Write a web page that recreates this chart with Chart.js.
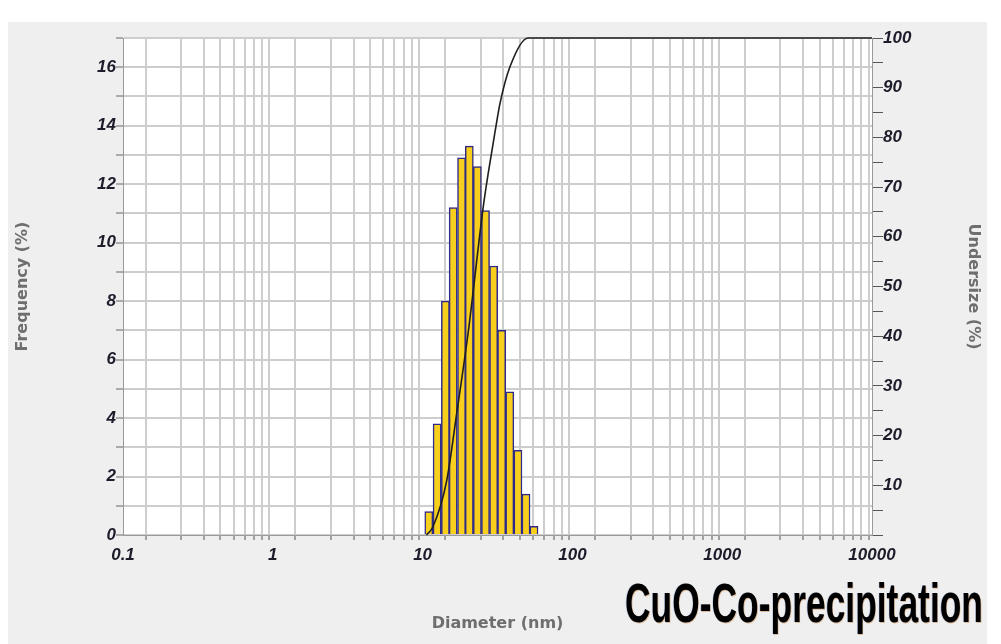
<!DOCTYPE html>
<html>
<head>
<meta charset="utf-8">
<title>CuO-Co-precipitation particle size</title>
<script src="https://cdn.jsdelivr.net/npm/chart.js@4.4.0/dist/chart.umd.min.js"></script>
<style>
    html, body { margin: 0; padding: 0; background: #fff; }
    #panel { position: absolute; left: 8px; top: 22px; width: 979px; height: 622px; background: #efefef; }
    #wrap { position: absolute; left: 0; top: 0; width: 1001px; height: 644px; }
    #sampleTitle {
        position: absolute; left: 625px; top: 575px;
        font: bold 56px 'Liberation Sans Narrow', 'Liberation Sans', Arial, sans-serif;
        line-height: 1; color: #000; white-space: nowrap;
        transform-origin: 0 0;
        text-shadow: 1px 1px 0 rgba(190, 110, 30, 0.4), -1px 0 0 rgba(40, 90, 200, 0.25);
    }
</style>
</head>
<body>
<div id="panel"></div>
<div id="wrap"><canvas id="sizeChart" width="1001" height="644"></canvas></div>
<span id="sampleTitle">CuO-Co-precipitation</span>

<script>
// DATA
const binCenters = [11.0, 12.5, 14.2, 16.0, 18.2, 20.5, 23.2, 26.3, 29.8, 33.7, 38.2, 43.3, 49.0, 55.4]; // nm
const frequency = [0.8, 3.8, 8.0, 11.2, 12.9, 13.3, 12.6, 11.1, 9.2, 7.0, 4.9, 2.9, 1.4, 0.3]; // %

const undersizeDiameter = [10.6, 11.7, 14.5, 16.9, 20.2, 25.4, 27.5, 30.4, 32.9, 38.3, 50.6, 10000]; // nm
const undersize = [0, 1.6, 11, 24.5, 41, 66, 73, 81, 86.9, 94.2, 100, 100]; // %

const xDecades = [0.1, 1, 10, 100, 1000, 10000];
const xTickLabels = ['0.1', '1', '10', '100', '1000', '10000'];

// log grid: 1..9 per decade
const xGridValues = [];
xDecades.forEach((d, i) => {
    if (i === xDecades.length - 1) { xGridValues.push(d); return; }
    for (let k = 1; k <= 9; k++) xGridValues.push(d * k);
});

const tickFont = { family: "'Liberation Sans', Arial, sans-serif", size: 17, style: 'italic', weight: 'bold' };
const titleFont = { family: "'DejaVu Sans', sans-serif", size: 16, weight: 'bold' };
const titleColor = '#6e6e6e';

// white plot area on the gray panel
const plotBackground = {
    id: 'plotBackground',
    beforeDraw(chart) {
        const { ctx, chartArea: a } = chart;
        ctx.save();
        ctx.fillStyle = '#ffffff';
        ctx.fillRect(a.left, a.top, a.right - a.left, a.bottom - a.top);
        ctx.restore();
    }
};

const ctx = document.getElementById('sizeChart').getContext('2d');
const sizeChart = new Chart(ctx, {
    type: 'bar',
    data: {
        datasets: [
            {
                type: 'line',
                label: 'Undersize',
                data: undersizeDiameter.map((d, i) => ({ x: d, y: undersize[i] })),
                yAxisID: 'y2',
                borderColor: '#1e1e1e',
                borderWidth: 1.6,
                pointRadius: 0,
                cubicInterpolationMode: 'monotone',
                fill: false,
                clip: 4,
                order: 0
            },
            {
                label: 'Frequency',
                data: binCenters.map((d, i) => ({ x: d, y: frequency[i] })),
                yAxisID: 'y',
                backgroundColor: '#f8cf1c',
                borderColor: '#2e2a8c',
                borderWidth: 1.5,
                barThickness: 8.1,
                order: 1
            }
        ]
    },
    options: {
        responsive: false,
        animation: false,
        layout: { padding: { left: 8, right: 14, top: 38, bottom: 10 } },
        plugins: { legend: { display: false }, tooltip: { enabled: false } },
        scales: {
            x: {
                type: 'logarithmic',
                min: 0.1,
                max: 10000,
                offset: false,
                afterBuildTicks: scale => {
                    scale.ticks = xGridValues.map(v => ({ value: v }));
                },
                afterFit: scale => { scale.height = 644 - 535 - 10; },
                ticks: {
                    autoSkip: false,
                    maxRotation: 0,
                    padding: 5,
                    color: '#1c1c2a',
                    font: tickFont,
                    callback: (value) => {
                        const i = xDecades.findIndex(d => Math.abs(d - value) < d * 1e-6);
                        return i >= 0 ? xTickLabels[i] : '';
                    }
                },
                grid: { color: '#cdcdcd', lineWidth: 2, tickLength: 5, tickColor: '#555', tickWidth: 1 },
                border: { color: '#9a9a9a', width: 1 },
                title: { display: true, text: 'Diameter (nm)', color: titleColor, font: titleFont, padding: { top: 4, bottom: 1 } }
            },
            y: {
                position: 'left',
                min: 0,
                max: 17,
                afterFit: scale => { scale.width = 123 - 8; },
                ticks: {
                    stepSize: 1,
                    padding: 0,
                    color: '#1c1c2a',
                    font: tickFont,
                    callback: v => (v % 2 === 0 ? v : '')
                },
                grid: { color: '#cdcdcd', lineWidth: 2, tickLength: 7, tickColor: '#666', tickWidth: 1 },
                border: { color: '#9a9a9a', width: 1 },
                title: { display: true, text: 'Frequency (%)', color: titleColor, font: titleFont, padding: { top: 5, bottom: 4 } }
            },
            y2: {
                position: 'right',
                min: 0,
                max: 100,
                afterFit: scale => { scale.width = 1001 - 872 - 14; },
                ticks: {
                    stepSize: 5,
                    padding: 0,
                    color: '#1c1c2a',
                    font: tickFont,
                    callback: v => (v % 10 === 0 && v > 0 ? v : '')
                },
                grid: { drawOnChartArea: false, tickLength: 11, tickColor: '#555', tickWidth: 1 },
                border: { color: '#9a9a9a', width: 1 },
                title: { display: true, text: 'Undersize (%)', color: titleColor, font: titleFont, padding: { top: 4, bottom: 9 } }
            }
        }
    },
    plugins: [plotBackground]
});

// squeeze the sample name to the width it has in the picture
const sampleTitle = document.getElementById('sampleTitle');
const naturalWidth = sampleTitle.getBoundingClientRect().width;
sampleTitle.style.transform = 'scaleX(' + (358 / naturalWidth) + ')';
</script>
</body>
</html>
